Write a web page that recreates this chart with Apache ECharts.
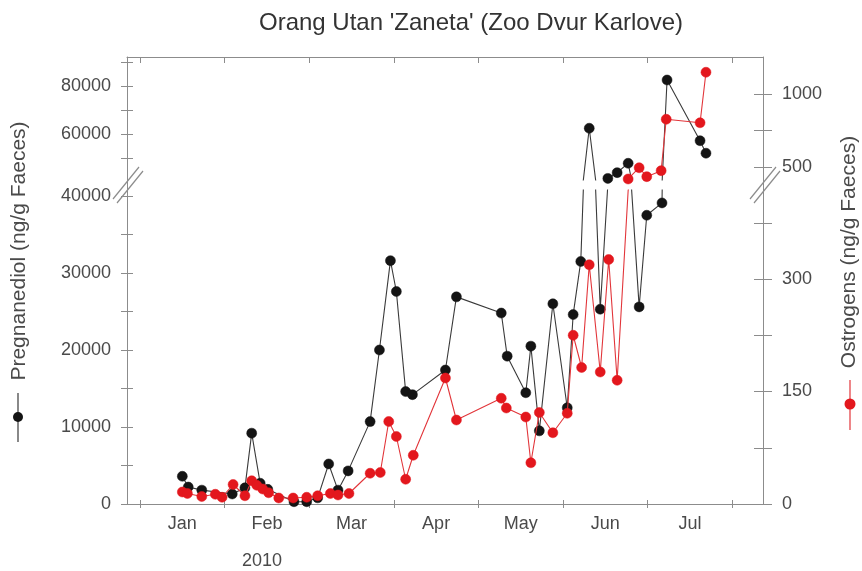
<!DOCTYPE html>
<html><head><meta charset="utf-8">
<script src="https://cdn.jsdelivr.net/npm/echarts@6/dist/echarts.min.js"></script>
<style>html,body{margin:0;padding:0;background:#fff}#c{width:862px;height:571px}</style>
</head><body><div id="c"></div>
<script>
// ---- data ----
const titleText = "Orang Utan 'Zaneta' (Zoo Dvur Karlove)";
const yearLabel = '2010';
const monthLabels = ['Jan','Feb','Mar','Apr','May','Jun','Jul'];
const monthTicks = [0,1,2,3,4,5,6,7];            // month boundaries (x in months from 1 Jan)
const monthLabelPos = [0.5,1.5,2.5,3.5,4.5,5.5,6.5];

// Pregnanediol (ng/g Faeces), left axis
const pregX = [0.50,0.57,0.73,1.09,1.24,1.32,1.42,1.51,1.82,1.97,2.10,2.23,2.34,2.46,2.72,2.83,2.96,3.03,3.14,3.22,3.61,3.74,4.27,4.34,4.56,4.62,4.72,4.88,5.05,5.12,5.21,5.31,5.44,5.53,5.64,5.77,5.90,5.99,6.17,6.23,6.62,6.69];
const pregY = [3600,2200,1800,1300,2100,9200,2700,1900,300,300,800,5200,1800,4300,10700,20000,31600,27600,14600,14200,17400,26900,24800,19200,14450,20500,9500,26000,12500,24600,31500,62400,25300,41500,43900,47800,25600,37500,39100,82500,57200,52000];

// Ostrogens (ng/g Faeces), right axis
const oestX = [0.50,0.56,0.73,0.89,0.97,1.10,1.24,1.32,1.38,1.45,1.52,1.64,1.81,1.97,2.10,2.25,2.34,2.47,2.72,2.84,2.94,3.03,3.14,3.23,3.61,3.74,4.27,4.33,4.56,4.62,4.72,4.88,5.05,5.12,5.22,5.31,5.44,5.54,5.64,5.77,5.90,5.99,6.16,6.22,6.62,6.69];
const oestY = [16,14,10,13,9,26,11,31,25,20,15,8,8,9,11,14,12,14,41,42,110,90,33,65,168,112,141,128,116,55,122,95,121,225,182,319,176,326,165,418,495,434,475,827,803,1149];

// axis ticks / labels
const leftLowTicks = [0,5000,10000,15000,20000,25000,30000,35000,40000];
const leftLowLabels = [0,10000,20000,30000,40000];
const leftUpTicks = [50000,60000,70000,80000,90000];
const leftUpLabels = [60000,80000];
const rightLowTicks = [0,75,150,225,300,375];
const rightLowLabels = [0,150,300];
const rightUpTicks = [500,750,1000];
const rightUpLabels = [500,1000];

// axis ranges (broken axis: lower and upper segment)
const xMin = -0.154, xMax = 7.364;
const leftLow = [0, 40779], leftUp = [40833, 92083];
const rightLow = [0, 418.7], rightUp = [411, 1253.4];
const leftSplit = 40300, rightSplit = 415;   // which segment a point belongs to

// ---- styling ----
const FONT = 'Liberation Sans, Arial, sans-serif';
const AX = '#8c8c8c';
const TXT = '#4a4a4a';
const BLACK = '#141414', BLACKLINE = '#3a3a3a';
const RED = '#e3171d', REDLINE = '#e2353a';

const chart = echarts.init(document.getElementById('c'), null, {renderer: 'canvas'});

const G = {left:127, right:99};
const grids = [
  {left:G.left, right:G.right, top:57, bottom:67},     // frame
  {left:G.left, right:G.right, top:190, bottom:67},    // lower segment
  {left:G.left, right:G.right, top:57, height:123}     // upper segment
];

function hiddenX(gi){return {type:'value', gridIndex:gi, min:xMin, max:xMax, show:false};}
const xAxes = [
  {type:'value', gridIndex:0, position:'bottom', min:xMin, max:xMax,
   axisLine:{show:true, onZero:false, lineStyle:{color:AX, width:1}},
   axisTick:{show:true, length:4, inside:false, customValues:monthTicks, lineStyle:{color:AX}},
   axisLabel:{show:true, customValues:monthLabelPos, margin:11, color:TXT, fontSize:18, fontFamily:FONT,
     formatter:v=>monthLabels[Math.floor(v)]},
   splitLine:{show:false}},
  {type:'value', gridIndex:0, position:'bottom', min:xMin, max:xMax,
   axisLine:{show:false, onZero:false}, axisTick:{show:true, length:4, inside:true, customValues:monthTicks, lineStyle:{color:AX}},
   axisLabel:{show:false}, splitLine:{show:false}},
  {type:'value', gridIndex:0, position:'top', min:xMin, max:xMax,
   axisLine:{show:true, onZero:false, lineStyle:{color:AX, width:1}},
   axisTick:{show:true, length:6, inside:true, customValues:monthTicks, lineStyle:{color:AX}},
   axisLabel:{show:false}, splitLine:{show:false}},
  hiddenX(1), hiddenX(2)
];

function yAx(gi, pos, range, ticks, labels, inside, len, margin){
  return {type:'value', gridIndex:gi, position:pos, min:range[0], max:range[1],
    axisLine:{show:false, onZero:false},
    axisTick:{show:true, inside:inside, length:len, customValues:ticks, lineStyle:{color:AX}},
    axisLabel:{show:!inside, customValues:labels, margin:margin, color:TXT, fontSize:18, fontFamily:FONT, formatter:v=>String(v)},
    splitLine:{show:false}};
}
const yAxes = [
  {type:'value', gridIndex:0, position:'left', min:0, max:1, axisLine:{show:true, onZero:false, lineStyle:{color:AX}}, axisTick:{show:false}, axisLabel:{show:false}, splitLine:{show:false}},
  {type:'value', gridIndex:0, position:'right', min:0, max:1, axisLine:{show:true, onZero:false, lineStyle:{color:AX}}, axisTick:{show:false}, axisLabel:{show:false}, splitLine:{show:false}},
  yAx(1,'left',leftLow,leftLowTicks,leftLowLabels,false,6,16),   // 2
  yAx(1,'left',leftLow,leftLowTicks,leftLowLabels,true,6,16),    // 3
  yAx(1,'right',rightLow,rightLowTicks,rightLowLabels,false,9,19),// 4
  yAx(1,'right',rightLow,rightLowTicks,rightLowLabels,true,9,19), // 5
  yAx(2,'left',leftUp,leftUpTicks,leftUpLabels,false,6,16),      // 6
  yAx(2,'left',leftUp,leftUpTicks,leftUpLabels,true,6,16),       // 7
  yAx(2,'right',rightUp,rightUpTicks,rightUpLabels,false,9,19),  // 8
  yAx(2,'right',rightUp,rightUpTicks,rightUpLabels,true,9,19)    // 9
];

function segData(xs, ys, split, upper){
  return xs.map((x,i)=>{
    const inSeg = upper ? ys[i] > split : ys[i] <= split;
    return {value:[x, ys[i]], symbol: inSeg ? 'circle' : 'none'};
  });
}
function mkSeries(name, xs, ys, split, upper, xi, yi, col, lineCol, z){
  return {name:name, type:'line', xAxisIndex:xi, yAxisIndex:yi, clip:true, z:z,
    data:segData(xs, ys, split, upper), symbolSize:10, showAllSymbol:true,
    lineStyle:{color:lineCol, width:1.1}, itemStyle:{color:col, borderColor:col, borderWidth:0.5},
    emphasis:{disabled:true}, animation:false};
}
const series = [
  mkSeries('Pregnanediol', pregX, pregY, leftSplit, false, 3, 2, BLACK, BLACKLINE, 2),
  mkSeries('Pregnanediol', pregX, pregY, leftSplit, true, 4, 6, BLACK, BLACKLINE, 2),
  mkSeries('Ostrogens', oestX, oestY, rightSplit, false, 3, 4, RED, REDLINE, 3),
  mkSeries('Ostrogens', oestX, oestY, rightSplit, true, 4, 8, RED, REDLINE, 3)
];

const brk = (x,y)=>[
  {type:'line', shape:{x1:x-14, y1:y+15, x2:x+12, y2:y-17}, style:{stroke:AX, lineWidth:1.2}, z:10},
  {type:'line', shape:{x1:x-10, y1:y+19, x2:x+16, y2:y-13}, style:{stroke:AX, lineWidth:1.2}, z:10}
];

const graphic = [
  {type:'text', x:471, y:23, style:{text:titleText, fill:'#333', font:'24px '+FONT, textAlign:'center', textVerticalAlign:'middle'}},
  {type:'text', x:262, y:561, style:{text:yearLabel, fill:TXT, font:'18px '+FONT, textAlign:'center', textVerticalAlign:'middle'}},
  {type:'text', x:19, y:251, rotation:Math.PI/2, style:{text:'Pregnanediol (ng/g Faeces)', fill:TXT, font:'21px '+FONT, textAlign:'center', textVerticalAlign:'middle'}},
  {type:'text', x:849, y:252, rotation:Math.PI/2, style:{text:'Ostrogens (ng/g Faeces)', fill:TXT, font:'21px '+FONT, textAlign:'center', textVerticalAlign:'middle'}},
  {type:'line', shape:{x1:18, y1:393, x2:18, y2:442}, style:{stroke:BLACKLINE, lineWidth:1.2}},
  {type:'circle', shape:{cx:18, cy:417, r:5}, style:{fill:BLACK}},
  {type:'line', shape:{x1:850, y1:380, x2:850, y2:430}, style:{stroke:REDLINE, lineWidth:1.2}},
  {type:'circle', shape:{cx:850, cy:404, r:5.5}, style:{fill:RED}}
].concat(brk(127,184)).concat(brk(764,184));

chart.setOption({
  animation:false,
  backgroundColor:'#fff',
  grid:grids, xAxis:xAxes, yAxis:yAxes, series:series, graphic:graphic
});
</script></body></html>
